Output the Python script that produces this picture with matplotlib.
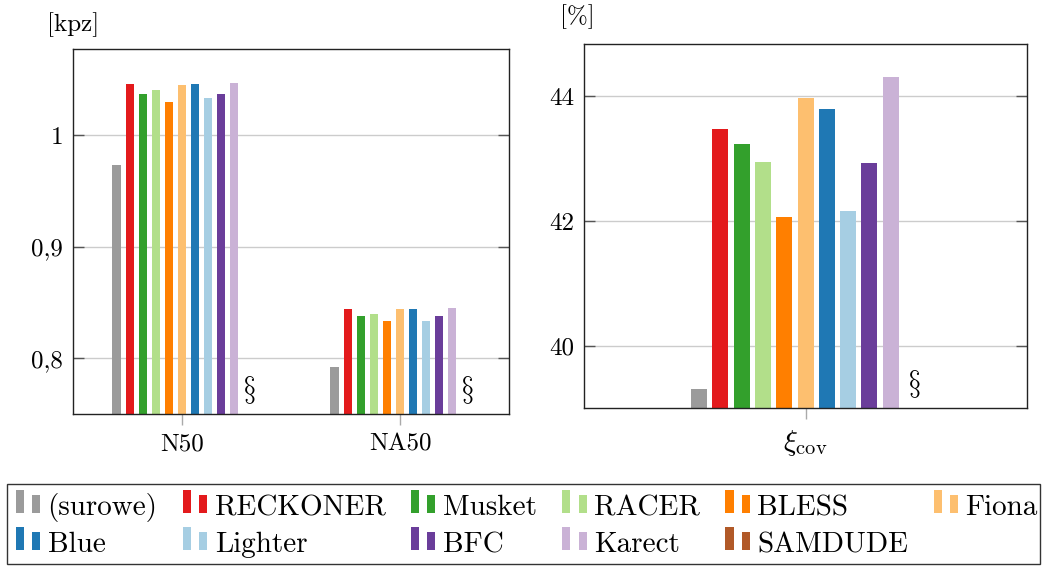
import numpy as np
import matplotlib.pyplot as plt
from matplotlib.patches import Patch, Rectangle
from matplotlib.legend_handler import HandlerBase

# data
tools = ['(surowe)', 'RECKONER', 'Musket', 'RACER', 'BLESS', 'Fiona',
         'Blue', 'Lighter', 'BFC', 'Karect', 'SAMDUDE']
colors = ['#9b9b9b', '#e31a1c', '#33a02c', '#b2df8a', '#ff7f00', '#fdbf6f',
          '#1f78b4', '#a6cee3', '#6a3d9a', '#cab2d6', '#b15928']

left_cats = ['N50', 'NA50']
n50 = [0.973, 1.046, 1.037, 1.040, 1.030, 1.045, 1.046, 1.033, 1.037, 1.047, None]
na50 = [0.792, 0.844, 0.838, 0.840, 0.833, 0.844, 0.844, 0.833, 0.838, 0.845, None]
left_ticks = [0.8, 0.9, 1.0]
left_ticklabels = ['0,8', '0,9', '1']

right_cats = [r'$\xi_{\mathrm{cov}}$']
xi_cov = [39.31, 43.48, 43.24, 42.95, 42.07, 43.97, 43.80, 42.16, 42.93, 44.31, None]
right_ticks = [40, 42, 44]
right_ticklabels = ['40', '42', '44']

plt.rcParams['font.family'] = ['cmr10', 'DejaVu Serif']
plt.rcParams['mathtext.fontset'] = 'cm'
plt.rcParams['axes.unicode_minus'] = False

fs = 18
fig = plt.figure(figsize=(10.43, 5.67), dpi=100)
ax1 = fig.add_axes([0.0700, 0.2698, 0.4180, 0.6437])
ax2 = fig.add_axes([0.5602, 0.2799, 0.4242, 0.6430])


def draw_panel(ax, cats, series, step, width, ymin, ymax, xlim):
    x = np.arange(len(cats))
    n = len(tools)
    for i in range(n):
        off = (i - (n - 1) / 2) * step
        vals = [s[i] for s in series]
        if vals[0] is None:
            # tool without a result: mark it with a section sign
            for xx in x:
                ax.annotate(r'$\S$', (xx + off, ymin), xytext=(1, 6),
                            textcoords='offset points', ha='center',
                            va='bottom', fontsize=22)
            continue
        ax.bar(x + off, vals, width, color=colors[i], zorder=2)
    ax.set_xlim(*xlim)
    ax.set_ylim(ymin, ymax)
    ax.set_xticks(x)
    ax.set_xticklabels(cats, fontsize=fs)
    ax.tick_params(axis='x', direction='out', length=8, width=1,
                   color='#aaaaaa', pad=6)
    ax.tick_params(axis='y', direction='in', length=8, width=1,
                   color='#555555', left=True, right=True, pad=7,
                   labelsize=fs)
    ax.yaxis.grid(True, color='#cccccc', lw=1)
    ax.set_axisbelow(True)
    for sp in ax.spines.values():
        sp.set_color('#222222')
        sp.set_linewidth(1)


# 11 slots per group, the last one (SAMDUDE) has no bar
draw_panel(ax1, left_cats, [n50, na50], 0.0601, 0.037, 0.75, 1.077, (-0.5, 1.5))
ax1.set_yticks(left_ticks)
ax1.set_yticklabels(left_ticklabels)

draw_panel(ax2, right_cats, [xi_cov], 0.0964, 0.0724, 39.0, 44.84, (-1.0, 1.0))
ax2.set_yticks(right_ticks)
ax2.set_yticklabels(right_ticklabels)
ax2.get_xticklabels()[0].set_fontsize(21)

fig.text(73 / 1043, 1 - 25 / 567, '[kpz]', ha='center', va='center', fontsize=fs)
fig.text(577 / 1043, 1 - 17 / 567, '[%]', ha='center', va='center', fontsize=fs)


# pgfplots style ybar legend image: two bars of different height
class TwoBars(HandlerBase):
    def create_artists(self, legend, orig_handle, xdescent, ydescent,
                       width, height, fontsize, trans):
        c = orig_handle.get_facecolor()
        x0 = -xdescent + 0.2 * fontsize   # small gap before the image
        w = 0.83 * fontsize / 3
        y0 = 0.07 * fontsize
        r1 = Rectangle((x0, y0), w, 0.79 * fontsize,
                       facecolor=c, edgecolor='none', transform=trans)
        r2 = Rectangle((x0 + 2 * w, y0), w, 0.62 * fontsize,
                       facecolor=c, edgecolor='none', transform=trans)
        return [r1, r2]


handles = [Patch(facecolor=c, label=t) for t, c in zip(tools, colors)]
# matplotlib fills columns first, so reorder to get the row-wise layout
order = [0, 6, 1, 7, 2, 8, 3, 9, 4, 10, 5]
# tall handle box keeps every row the same height whatever the text
leg = fig.legend([handles[k] for k in order], [tools[k] for k in order],
                 loc='upper left', bbox_to_anchor=(0.007, 1 - 484 / 567),
                 ncol=6, fontsize=21, frameon=True, fancybox=False,
                 edgecolor='#333333', framealpha=1, borderaxespad=0,
                 handlelength=1.03, handleheight=1.59, handletextpad=0.25,
                 columnspacing=0.68, borderpad=0.1, labelspacing=0.0,
                 handler_map={Patch: TwoBars()})
leg.get_frame().set_linewidth(1)

fig.savefig('out.png', dpi=100)
